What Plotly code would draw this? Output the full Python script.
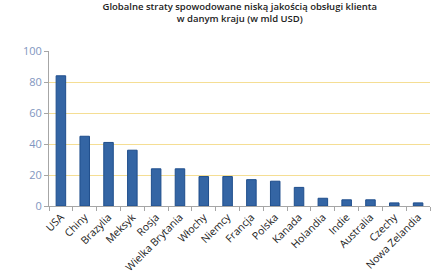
import plotly.graph_objects as go

countries = ["USA", "Chiny", "Brazylia", "Meksyk", "Rosja", "Wielka Brytania", "Włochy",
             "Niemcy", "Francja", "Polska", "Kanada", "Holandia", "Indie", "Australia",
             "Czechy", "Nowa Zelandia"]
losses = [84, 45, 41, 36, 24, 24, 19, 19, 17, 16, 12, 5, 4, 4, 2, 2]
y_ticks = [0, 20, 40, 60, 80, 100]

fig = go.Figure(go.Bar(
    x=countries, y=losses,
    marker=dict(color="#3465A4", line=dict(color="#1F4E8C", width=1)),
))

fig.update_layout(
    width=440, height=274,
    margin=dict(l=49, r=10, t=51, b=68),
    paper_bgcolor="white", plot_bgcolor="white",
    bargap=0.6,
    showlegend=False,
    title=dict(
        text="Globalne straty spowodowane niską jakością obsługi klienta<br>w danym kraju (w mld USD)",
        x=0.545, xanchor="center", y=0.965, yanchor="top",
        font=dict(family="Open Sans", size=9.5, color="#222222", weight=600),
    ),
    font=dict(family="Open Sans"),
)
fig.update_xaxes(
    type="category",
    tickangle=-45,
    automargin=False,
    tickfont=dict(size=10.5, color="#222222"),
    showline=True, linecolor="#A6A6A6", linewidth=1,
    ticks="outside", ticklen=4, tickcolor="#A6A6A6",
    tickson="boundaries",
    showgrid=False,
)
fig.update_yaxes(
    range=[0, 100], tickvals=y_ticks,
    automargin=False,
    tickfont=dict(size=11, color="#7F96C0"),
    showline=True, linecolor="#A6A6A6", linewidth=1,
    ticks="outside", ticklen=4, tickcolor="#A6A6A6",
    gridcolor="#F5DE94", gridwidth=1.3,
    zeroline=False,
)

fig.write_html("out.html")
